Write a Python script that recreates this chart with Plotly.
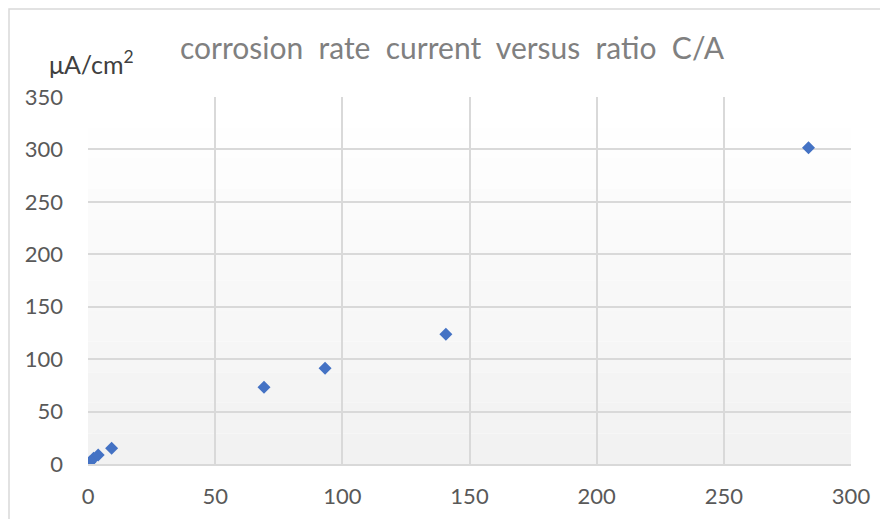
import plotly.graph_objects as go

ratio_ca = [0.8, 2.2, 4.0, 9.3, 69.2, 93.2, 140.7, 283.3]
current = [2.0, 5.5, 8.5, 15.0, 73.3, 91.3, 123.7, 301.5]
x_ticks = [0, 50, 100, 150, 200, 250, 300]
y_ticks = [0, 50, 100, 150, 200, 250, 300, 350]

W, H = 872, 511
L, R, T, B = 80, 29, 89, 55
pw, ph = W - L - R, H - T - B

fig = go.Figure()
fig.add_trace(go.Scatter(
    x=ratio_ca, y=current, mode="markers",
    marker=dict(symbol="diamond", size=10, color="#4472C4"),
    showlegend=False,
))

# gradient-like background bands
n = 12
shapes = []
for i in range(n):
    t = i / (n - 1)
    c = int(round(255 - (255 - 242) * (1 - t)))
    shapes.append(dict(type="rect", xref="x domain", yref="y domain",
                       x0=0, x1=1, y0=i / n, y1=(i + 1) / n,
                       fillcolor=f"rgb({c},{c},{c})", line=dict(width=0), layer="below"))
shapes.append(dict(type="rect", xref="paper", yref="paper", x0=-(L - 1) / pw, x1=1 + (R + 8) / pw,
                   y0=-(B + 8) / ph, y1=1 + (T - 1) / ph, line=dict(color="#d9d9d9", width=1.5)))

fig.update_layout(
    width=W, height=H,
    margin=dict(l=L, r=R, t=T, b=B, autoexpand=False),
    paper_bgcolor="white", plot_bgcolor="rgba(0,0,0,0)",
    font=dict(family="Lato, Calibri, sans-serif", color="#595959", size=22),
    title=dict(text="corrosion  rate  current  versus  ratio  C/A", x=444 / W, xanchor="center",
               y=1 - 40 / H, yanchor="middle",
               font=dict(size=30, color="#808080")),
    shapes=shapes,
    xaxis=dict(range=[0, 300], tickvals=x_ticks, showgrid=True, gridcolor="#d9d9d9",
               gridwidth=1.5, zeroline=False, showline=True, linecolor="#d9d9d9",
               linewidth=1.5, ticks="", automargin=False, fixedrange=True,
               ticklabelstandoff=12),
    yaxis=dict(range=[0, 350], tickvals=y_ticks, showgrid=True, gridcolor="#d9d9d9",
               gridwidth=1.5, zeroline=False, showline=False, ticks="",
               automargin=False, ticklabelstandoff=24, fixedrange=True),
    annotations=[dict(text="μA/cm<sup>2</sup>", xref="paper", yref="paper",
                      x=3 / pw, y=1 + 35 / ph, xanchor="center", yanchor="middle",
                      showarrow=False, font=dict(size=25, color="#404040"))],
)

fig.write_html("out.html")
